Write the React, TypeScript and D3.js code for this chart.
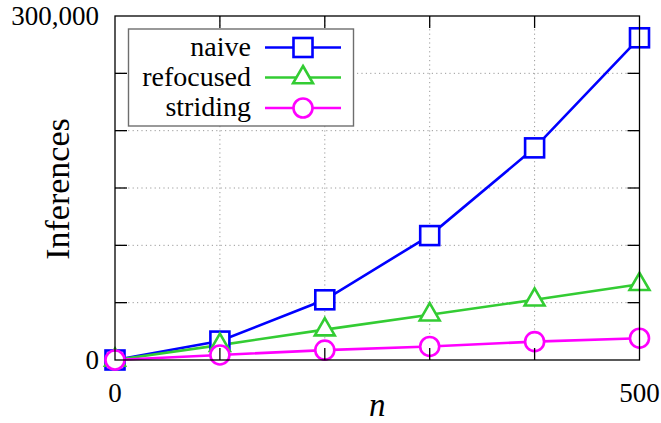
import React from "react";
import * as d3 from "d3";

const nValues = [0, 100, 200, 300, 400, 500];
const naive = [0, 16500, 52500, 108500, 185000, 281000];
const refocused = [0, 13000, 26500, 39500, 52500, 66000];
const striding = [0, 4400, 8600, 11800, 16000, 19000];
const xTicks = [0, 100, 200, 300, 400, 500];
const yTicks = [0, 50000, 100000, 150000, 200000, 250000, 300000];
const xTickLabels = ["0", "", "", "", "", "500"];
const yTickLabels = ["0", "", "", "", "", "", "300,000"];
const seriesNames = ["naive", "refocused", "striding"];
const seriesColors = ["#0000ff", "#33cc33", "#ff00ff"];
const seriesMarkers = ["square", "triangle", "circle"];

const W = 661;
const H = 423;
const left = 115;
const right = 639.5;
const top = 16;
const bottom = 360;
const FONT = '"Liberation Serif", "Times New Roman", serif';

function Marker({ kind, x, y, color }: { kind: string; x: number; y: number; color: string }) {
  const sw = 2.6;
  if (kind === "square") {
    const s = 19;
    return <rect x={x - s / 2} y={y - s / 2} width={s} height={s} fill="white" stroke={color} strokeWidth={sw} />;
  }
  if (kind === "triangle") {
    const r = 11.5;
    const pts = [0, 1, 2]
      .map((i) => {
        const a = -Math.PI / 2 + (i * 2 * Math.PI) / 3;
        return `${x + r * Math.cos(a)},${y + r * Math.sin(a)}`;
      })
      .join(" ");
    return <polygon points={pts} fill="white" stroke={color} strokeWidth={sw} strokeLinejoin="miter" />;
  }
  return <circle cx={x} cy={y} r={9.5} fill="white" stroke={color} strokeWidth={sw} />;
}

function T(props: any) {
  const { size, italic, children, ...rest } = props;
  return (
    <text
      {...rest}
      fontFamily={FONT}
      fontSize={size}
      fontStyle={italic ? "italic" : "normal"}
      style={{ fontFamily: FONT, fontSize: size, fontStyle: italic ? "italic" : "normal" }}
    >
      {children}
    </text>
  );
}

export default function App() {
  const x = d3.scaleLinear().domain([0, 500]).range([left, right]);
  const y = d3.scaleLinear().domain([0, 300000]).range([bottom, top]);
  const data = [naive, refocused, striding];
  const line = d3
    .line<number>()
    .x((_, i) => x(nValues[i]))
    .y((d) => y(d));
  const tickLen = 12;

  const legX = 128.5;
  const legY = 29;
  const legW = 225;
  const legH = 97;
  const rowY = [47.5, 77.5, 108];

  return (
    <svg width={W} height={H} style={{ position: "absolute", left: 0, top: 0, fontFamily: FONT }}>
      <style>{`svg text { font-family: "Liberation Serif", "Times New Roman", serif !important; }`}</style>
      <rect width={W} height={H} fill="white" />
      <g stroke="#9a9a9a" strokeWidth={1} strokeDasharray="1.2,3.2">
        {xTicks.slice(1, -1).map((t) => (
          <line key={"gx" + t} x1={x(t)} x2={x(t)} y1={top} y2={bottom} />
        ))}
        {yTicks.slice(1, -1).map((t) => (
          <line key={"gy" + t} x1={left} x2={right} y1={y(t)} y2={y(t)} />
        ))}
      </g>
      {data.map((vals, si) => (
        <path key={"s" + si} d={line(vals) || ""} fill="none" stroke={seriesColors[si]} strokeWidth={2.6} />
      ))}
      {data.map((vals, si) => (
        <g key={"m" + si}>
          {vals.map((v, i) => (
            <Marker key={i} kind={seriesMarkers[si]} x={x(nValues[i])} y={y(v)} color={seriesColors[si]} />
          ))}
        </g>
      ))}
      <g stroke="black" strokeWidth={1.3}>
        <rect x={left} y={top} width={right - left} height={bottom - top} fill="none" />
        {xTicks.slice(1, -1).map((t) => (
          <g key={"tx" + t}>
            <line x1={x(t)} x2={x(t)} y1={bottom} y2={bottom - tickLen} />
            <line x1={x(t)} x2={x(t)} y1={top} y2={top + tickLen} />
          </g>
        ))}
        {yTicks.slice(1, -1).map((t) => (
          <g key={"ty" + t}>
            <line x1={left} x2={left + tickLen} y1={y(t)} y2={y(t)} />
            <line x1={right} x2={right - tickLen} y1={y(t)} y2={y(t)} />
          </g>
        ))}
      </g>
      {xTicks.map((t, i) =>
        xTickLabels[i] ? (
          <T key={"lx" + t} x={x(t)} y={402} textAnchor="middle" size={27}>
            {xTickLabels[i]}
          </T>
        ) : null
      )}
      {yTicks.map((t, i) =>
        yTickLabels[i] ? (
          <T key={"ly" + t} x={left - 16} y={y(t) + 9} textAnchor="end" size={27}>
            {yTickLabels[i]}
          </T>
        ) : null
      )}
      <T x={x(250)} y={416} textAnchor="middle" size={33} italic>
        n
      </T>
      <T transform={`translate(69,${(top + bottom) / 2 + 1}) rotate(-90)`} textAnchor="middle" size={34}>
        Inferences
      </T>
      <rect x={legX} y={legY} width={legW} height={legH} fill="white" stroke="#6e6e6e" strokeWidth={1.4} />
      {seriesNames.map((name, i) => (
        <g key={"leg" + i}>
          <T x={251} y={rowY[i] + 8} textAnchor="end" size={28}>
            {name}
          </T>
          <line x1={265} x2={341} y1={rowY[i]} y2={rowY[i]} stroke={seriesColors[i]} strokeWidth={2.6} />
          <Marker kind={seriesMarkers[i]} x={303} y={rowY[i]} color={seriesColors[i]} />
        </g>
      ))}
    </svg>
  );
}
